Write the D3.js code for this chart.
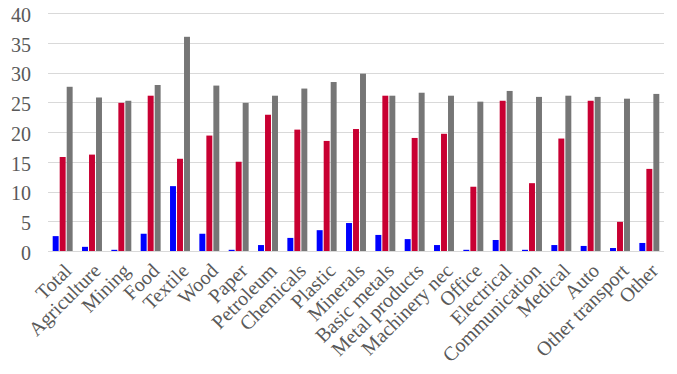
<!DOCTYPE html>
<html>
<head>
<meta charset="utf-8">
<script src="https://cdn.jsdelivr.net/npm/d3@7"></script>
<style>
  body { margin: 0; background: #fff; }
  svg { display: block; }
  .lbl { font-family: "Liberation Serif", "Times New Roman", serif; }
</style>
</head>
<body>
<div id="chart"></div>
<script>
var categories = ["Total", "Agriculture", "Mining", "Food", "Textile", "Wood", "Paper",
  "Petroleum", "Chemicals", "Plastic", "Minerals", "Basic metals", "Metal products",
  "Machinery nec", "Office", "Electrical", "Communication", "Medical", "Auto",
  "Other transport", "Other"];

var blueValues = [2.5, 0.7, 0.2, 2.9, 10.9, 2.9, 0.2, 1.0, 2.2, 3.5, 4.7, 2.7, 2.0,
  1.0, 0.2, 1.85, 0.2, 1.0, 0.85, 0.5, 1.35];
var redValues = [15.8, 16.2, 24.9, 26.1, 15.5, 19.4, 15.0, 22.9, 20.4, 18.5, 20.5, 26.1,
  19.0, 19.7, 10.8, 25.25, 11.4, 18.9, 25.25, 4.9, 13.8];
var greyValues = [27.6, 25.8, 25.25, 27.9, 36.0, 27.8, 24.9, 26.1, 27.3, 28.4, 29.8, 26.1,
  26.6, 26.1, 25.1, 26.9, 25.9, 26.1, 25.9, 25.6, 26.4];

var yTicks = [0, 5, 10, 15, 20, 25, 30, 35, 40];
var seriesColors = ["#0000ff", "#c80032", "#767676"];

var width = 677, height = 374;
var margin = {top: 13, right: 13, bottom: 123, left: 48};
var innerW = width - margin.left - margin.right,
    innerH = height - margin.top - margin.bottom;

var svg = d3.select("#chart").append("svg")
  .attr("width", width)
  .attr("height", height);

var g = svg.append("g")
  .attr("transform", "translate(" + margin.left + "," + margin.top + ")");

var x = d3.scaleBand()
  .domain(categories)
  .range([0, innerW])
  .paddingInner(0.32)
  .paddingOuter(0.16);

var x1 = d3.scaleBand()
  .domain([0, 1, 2])
  .range([0, x.bandwidth()])
  .paddingInner(0.15);

var y = d3.scaleLinear()
  .domain([0, 40])
  .range([innerH, 0]);

// gridlines
g.append("g")
  .selectAll("line")
  .data(yTicks)
  .join("line")
  .attr("x1", 0)
  .attr("x2", innerW)
  .attr("y1", d => Math.round(y(d)) + 0.5)
  .attr("y2", d => Math.round(y(d)) + 0.5)
  .attr("stroke", "#d9d9d9")
  .attr("stroke-width", 1);

// y axis labels
var yAxis = g.append("g")
  .call(d3.axisLeft(y).tickValues(yTicks).tickSize(0).tickPadding(17));
yAxis.attr("font-family", null).attr("font-size", null);
yAxis.select(".domain").remove();
yAxis.selectAll("text")
  .attr("class", "lbl")
  .attr("fill", "#595959")
  .attr("font-size", 20)
  .attr("dy", "0.42em");

// bars
var rows = categories.map(function(c, i) {
  return {cat: c, vals: [blueValues[i], redValues[i], greyValues[i]]};
});

var groups = g.selectAll(".grp")
  .data(rows)
  .join("g")
  .attr("class", "grp")
  .attr("transform", d => "translate(" + x(d.cat) + ",0)");

groups.selectAll("rect")
  .data(d => d.vals.map((v, k) => ({k: k, v: v})))
  .join("rect")
  .attr("x", d => x1(d.k))
  .attr("width", x1.bandwidth())
  .attr("y", d => y(d.v))
  .attr("height", d => innerH - y(d.v))
  .attr("fill", d => seriesColors[d.k]);

// x axis labels
var xAxis = g.append("g")
  .attr("transform", "translate(0," + innerH + ")")
  .call(d3.axisBottom(x).tickSize(0).tickPadding(0));
xAxis.attr("font-family", null).attr("font-size", null);
xAxis.select(".domain").remove();
xAxis.selectAll("text")
  .attr("class", "lbl")
  .attr("fill", "#595959")
  .attr("font-size", 20)
  .attr("text-anchor", "end")
  .attr("dy", null)
  .attr("transform", "translate(10,21) rotate(-45)");
</script>
</body>
</html>
